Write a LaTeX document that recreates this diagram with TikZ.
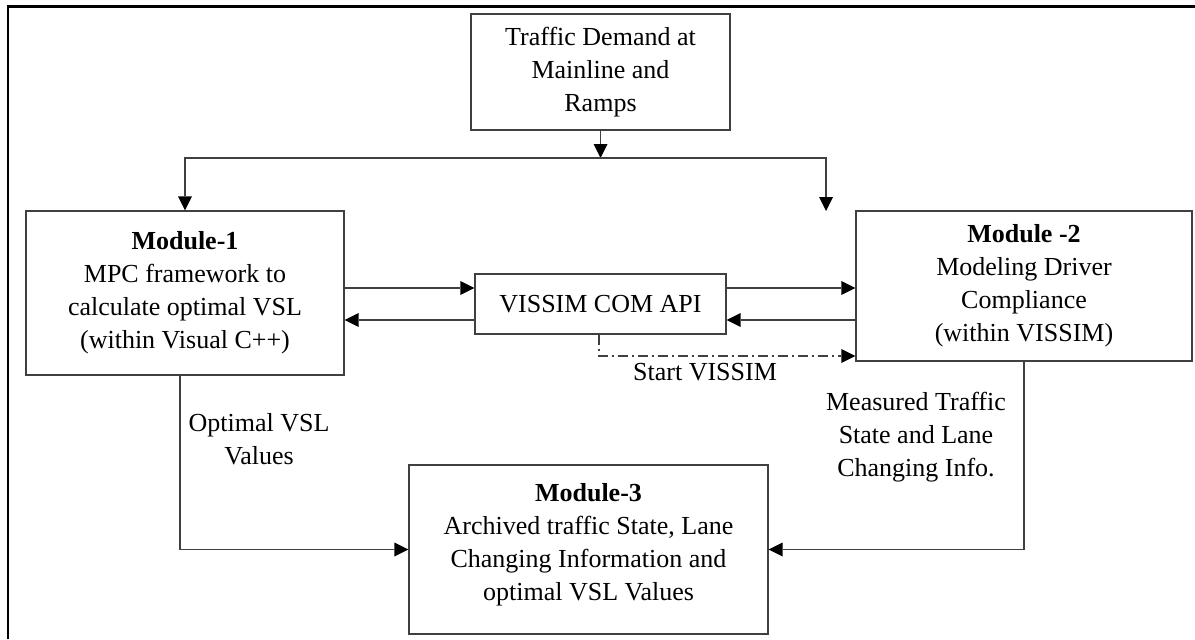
\documentclass[tikz,border=0pt]{standalone}
\usepackage{fontspec}
\setmainfont{Liberation Serif}
\usetikzlibrary{arrows.meta}

\begin{document}
\begin{tikzpicture}[x=0.5pt,y=-0.5pt,
  box/.style={draw=black!75, line width=0.6pt, align=center, inner sep=0pt,
    font=\fontsize{13}{16.5}\selectfont},
  lbl/.style={align=center, inner sep=0pt, font=\fontsize{13}{16.5}\selectfont},
  flow/.style={draw=black!75, line width=0.6pt,
    -{Triangle[length=7pt,width=7pt,fill=black,line width=0pt]}},
  dashdot/.style={dash pattern=on 5pt off 2pt on 1pt off 2pt}]
  \useasboundingbox (0,0) rectangle (1195,639);
  \draw[line width=1.2pt] (8,639) -- (8,6.5) -- (1195,6.5);

  % boxes
  \node[box, minimum width=129.5pt, minimum height=58pt] (demand) at (600.5,72)
    {Traffic Demand at\\Mainline and\\Ramps};
  \node[box, minimum width=159pt, minimum height=82pt] (mod1) at (185,293)
    {\textbf{Module-1}\\MPC framework to\\calculate optimal VSL\\(within Visual C++)};
  \node[box, minimum width=125.5pt, minimum height=30pt] (vis) at (600.5,304)
    {VISSIM COM API};
  \node[box, minimum width=168pt, minimum height=75pt] (mod2) at (1024,286)
    {\textbf{Module -2}\\Modeling Driver\\Compliance\\(within VISSIM)};
  \node[box, minimum width=179.5pt, minimum height=84.5pt] (mod3) at (588.5,549.5)
    {\textbf{Module-3}\\Archived traffic State, Lane\\Changing Information and\\optimal VSL Values\\[-8.5pt]};

  % labels
  \node[lbl] (start) at (705,372) {Start VISSIM};
  \node[lbl] (optval) at (259,439) {Optimal VSL\\Values};
  \node[lbl] (meas) at (916,437) {Measured Traffic\\State and Lane\\Changing Info.};

  % helper points
  \coordinate (split) at (600.5,158);
  \coordinate (m2top) at (826,211);
  \coordinate (upper) at (0,288);
  \coordinate (lower) at (0,320);
  \coordinate (startrow) at (0,356);

  % connectors
  \draw[flow] (demand.south) -- (split);
  \draw[flow] (split) -| (mod1.north);
  \draw[flow] (split) -| (m2top);
  \draw[flow] (mod1.east |- upper) -- (vis.west |- upper);
  \draw[flow] (vis.west |- lower) -- (mod1.east |- lower);
  \draw[flow] (vis.east |- upper) -- (mod2.west |- upper);
  \draw[flow] (mod2.west |- lower) -- (vis.east |- lower);
  \draw[flow, dashdot] ([xshift=-0.75pt]vis.south) |- (mod2.west |- startrow);
  \draw[flow] ([xshift=-2.5pt]mod1.south) |- (mod3.west);
  \draw[flow] (mod2.south) |- (mod3.east);
\end{tikzpicture}
\end{document}
